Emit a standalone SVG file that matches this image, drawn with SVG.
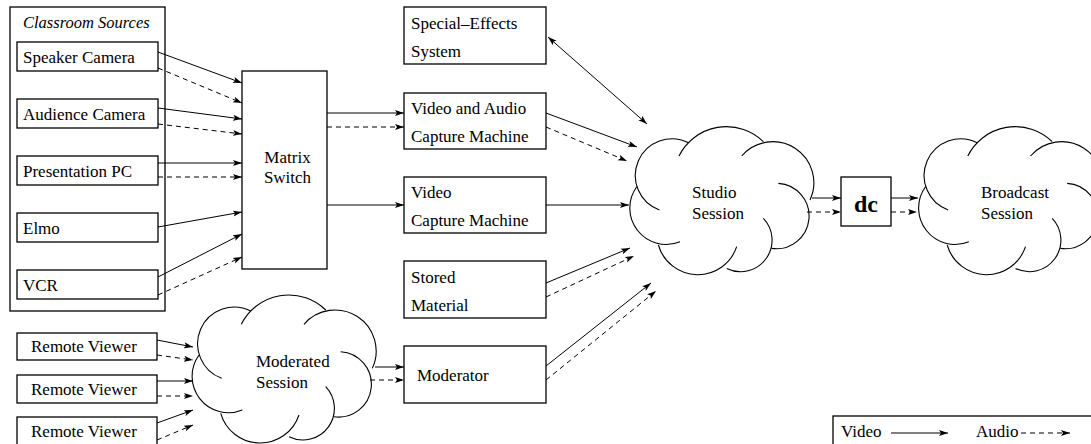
<svg xmlns="http://www.w3.org/2000/svg" width="1091" height="444" viewBox="0 0 1091 444">
<style>
.box{fill:none;stroke:#000;stroke-width:1.3}
.t{font-family:"Liberation Serif","Times New Roman",serif;font-size:17px;fill:#000}
.it{font-style:italic;font-size:16.5px}
.dc{font-weight:bold;font-size:24px}
.cl{fill:none;stroke:#000;stroke-width:1.1}
.v{fill:none;stroke:#000;stroke-width:1;marker-end:url(#ah)}
.a{fill:none;stroke:#000;stroke-width:1;stroke-dasharray:5 4;marker-end:url(#ah)}
.b{fill:none;stroke:#000;stroke-width:1;marker-start:url(#ah);marker-end:url(#ah)}
</style>
<defs>
<marker id="ah" markerUnits="userSpaceOnUse" markerWidth="10" markerHeight="7" refX="9" refY="3.5" orient="auto-start-reverse">
<path d="M0,0.5 L9,3.5 L0,6.5 L2,3.5 Z" fill="#000"/>
</marker>
<path id="cloud" class="cl" d="M28.7 83.3 A36.7 36.7 0 1 1 57.7 16 M48.3 29.3 A53 53 0 0 1 132.7 15 M111 29.3 A41 41 0 0 1 179.3 73.3 M147.7 56.7 A32.7 32.7 0 1 1 141 121.7 M132.7 91.7 A31.5 31.5 0 0 1 96 141.7 M106 120 A41 41 0 0 1 27.7 118.3 M49.3 115 A36.4 36.4 0 0 1 6 60"/>
</defs>
<rect width="1091" height="444" fill="#fff"/>

<g id="classroom-sources">
<rect class="box" x="10" y="7" width="155" height="304"/>
<text class="t it" x="23" y="28">Classroom Sources</text>
</g>
<g id="speaker-camera">
<rect class="box" x="17" y="42" width="141" height="29"/>
<text class="t" x="23" y="63">Speaker Camera</text>
</g>
<g id="audience-camera">
<rect class="box" x="17" y="99" width="141" height="29"/>
<text class="t" x="23" y="120">Audience Camera</text>
</g>
<g id="presentation-pc">
<rect class="box" x="17" y="156" width="141" height="29"/>
<text class="t" x="23" y="177">Presentation PC</text>
</g>
<g id="elmo">
<rect class="box" x="17" y="213" width="141" height="29"/>
<text class="t" x="23" y="234">Elmo</text>
</g>
<g id="vcr">
<rect class="box" x="17" y="270" width="141" height="29"/>
<text class="t" x="23" y="291">VCR</text>
</g>

<g id="matrix-switch">
<rect class="box" x="242" y="71" width="85" height="198"/>
<text class="t" x="287.5" y="163" text-anchor="middle">Matrix</text>
<text class="t" x="287.5" y="183" text-anchor="middle">Switch</text>
</g>

<g id="special-effects">
<rect class="box" x="404" y="7" width="142" height="57"/>
<text class="t" x="411" y="28.5">Special–Effects</text>
<text class="t" x="411" y="56.5">System</text>
</g>
<g id="av-capture">
<rect class="box" x="404" y="93" width="142" height="56"/>
<text class="t" x="411" y="113.5">Video and Audio</text>
<text class="t" x="411" y="141.5">Capture Machine</text>
</g>
<g id="video-capture">
<rect class="box" x="404" y="177" width="142" height="56"/>
<text class="t" x="411" y="197.5">Video</text>
<text class="t" x="411" y="225.5">Capture Machine</text>
</g>
<g id="stored-material">
<rect class="box" x="404" y="261" width="142" height="57"/>
<text class="t" x="411" y="282.5">Stored</text>
<text class="t" x="411" y="310.5">Material</text>
</g>
<g id="moderator">
<rect class="box" x="404" y="346" width="142" height="57"/>
<text class="t" x="417" y="380.5">Moderator</text>
</g>

<g id="studio-session">
<use href="#cloud" transform="translate(630.7,126.7)"/>
<text class="t" x="692" y="198">Studio</text>
<text class="t" x="692" y="219">Session</text>
</g>
<g id="dc">
<rect class="box" x="841" y="177" width="50" height="49"/>
<text class="t dc" x="866" y="212" text-anchor="middle">dc</text>
</g>
<g id="broadcast-session">
<use href="#cloud" transform="translate(919.5,126.7)"/>
<text class="t" x="981" y="198">Broadcast</text>
<text class="t" x="981" y="219">Session</text>
</g>
<g id="moderated-session">
<use href="#cloud" transform="translate(193,295)"/>
<text class="t" x="256" y="367">Moderated</text>
<text class="t" x="256" y="388">Session</text>
</g>

<g id="remote-viewer-1">
<rect class="box" x="17" y="333" width="140" height="27"/>
<text class="t" x="31" y="352">Remote Viewer</text>
</g>
<g id="remote-viewer-2">
<rect class="box" x="17" y="375" width="140" height="28"/>
<text class="t" x="31" y="394.5">Remote Viewer</text>
</g>
<g id="remote-viewer-3">
<rect class="box" x="17" y="417" width="140" height="30"/>
<text class="t" x="31" y="437">Remote Viewer</text>
</g>

<g id="legend">
<rect class="box" x="833" y="416" width="270" height="40"/>
<text class="t" x="841" y="437">Video</text>
<line class="v" x1="891" y1="433" x2="948" y2="433"/>
<text class="t" x="976" y="437">Audio</text>
<line class="a" x1="1021" y1="433" x2="1070" y2="433"/>
</g>

<g id="connectors">
<line class="v" x1="158" y1="52" x2="242" y2="83"/>
<line class="a" x1="158" y1="68" x2="242" y2="103"/>
<line class="v" x1="158" y1="108" x2="242" y2="119"/>
<line class="a" x1="158" y1="124" x2="242" y2="134"/>
<line class="v" x1="158" y1="163" x2="242" y2="163"/>
<line class="a" x1="158" y1="177" x2="242" y2="177"/>
<line class="v" x1="158" y1="227" x2="242" y2="212"/>
<line class="v" x1="158" y1="277" x2="242" y2="234"/>
<line class="a" x1="158" y1="295" x2="242" y2="257"/>

<line class="v" x1="327" y1="113" x2="404" y2="113"/>
<line class="a" x1="327" y1="127" x2="404" y2="127"/>
<line class="v" x1="327" y1="205" x2="404" y2="205"/>

<line class="b" x1="548" y1="37" x2="647" y2="124"/>
<line class="v" x1="546" y1="113" x2="637" y2="147"/>
<line class="a" x1="546" y1="127" x2="627" y2="161"/>
<line class="v" x1="546" y1="205" x2="629" y2="205"/>
<line class="v" x1="546" y1="283" x2="630" y2="248"/>
<line class="a" x1="546" y1="297" x2="634" y2="256"/>
<line class="v" x1="546" y1="366" x2="651" y2="283"/>
<line class="a" x1="546" y1="380" x2="656" y2="291"/>

<line class="v" x1="812" y1="198" x2="841" y2="198"/>
<line class="a" x1="807" y1="212" x2="841" y2="212"/>
<line class="v" x1="891" y1="198" x2="918" y2="198"/>
<line class="a" x1="891" y1="212" x2="917" y2="212"/>

<line class="v" x1="157" y1="340" x2="193" y2="347"/>
<line class="a" x1="157" y1="355" x2="193" y2="360"/>
<line class="v" x1="157" y1="381" x2="193" y2="381"/>
<line class="a" x1="157" y1="396" x2="193" y2="396"/>
<line class="v" x1="157" y1="423" x2="193" y2="410"/>
<line class="a" x1="157" y1="440" x2="193" y2="425"/>

<line class="v" x1="375" y1="367" x2="404" y2="367"/>
<line class="a" x1="370" y1="380" x2="404" y2="380"/>
</g>
</svg>
